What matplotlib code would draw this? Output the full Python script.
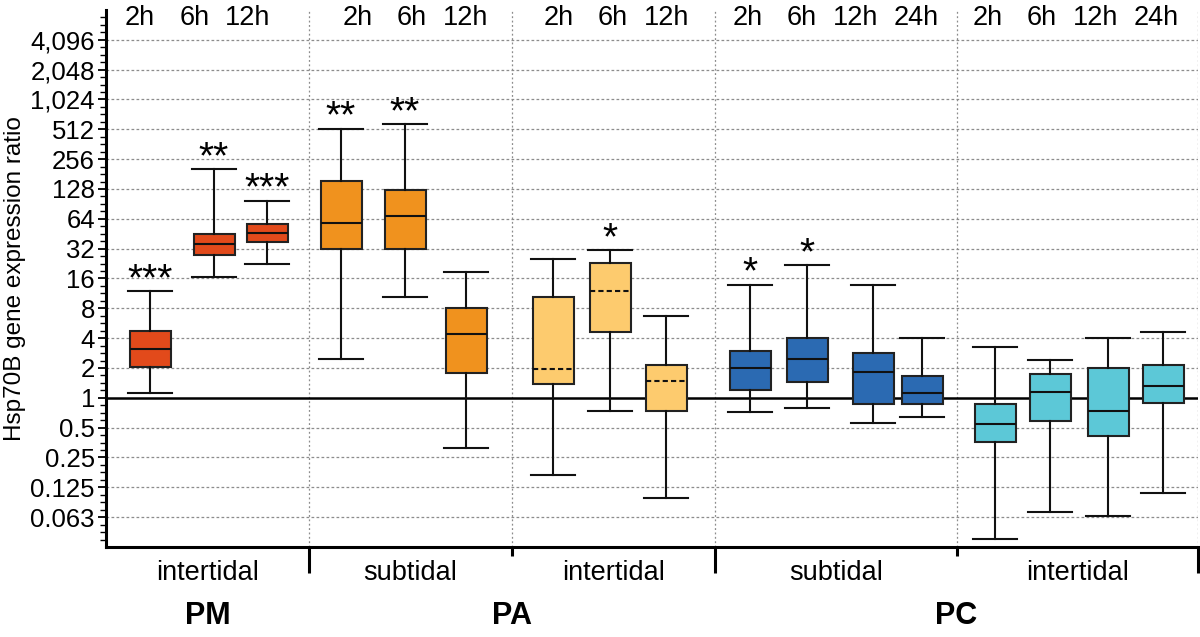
import numpy as np
import matplotlib
matplotlib.use("Agg")
import matplotlib.pyplot as plt
from matplotlib.ticker import FixedLocator, NullFormatter

# five-number summaries per box (ratio units), order: PM int, PA sub, PA int, PC sub, PC int
times = ["2h", "6h", "12h", "2h", "6h", "12h", "2h", "6h", "12h",
         "2h", "6h", "12h", "24h", "2h", "6h", "12h", "24h"]
groups = ["PM-int", "PM-int", "PM-int", "PA-sub", "PA-sub", "PA-sub",
          "PA-int", "PA-int", "PA-int", "PC-sub", "PC-sub", "PC-sub", "PC-sub",
          "PC-int", "PC-int", "PC-int", "PC-int"]
whisker_lo = [1.13, 16.6, 22.3, 2.49, 10.4, 0.313, 0.167, 0.738, 0.098,
              0.72, 0.79, 0.56, 0.64, 0.038, 0.071, 0.064, 0.109]
q1 = [2.06, 27.5, 37.0, 32.0, 32.0, 1.79, 1.37, 4.67, 0.738,
      1.2, 1.45, 0.86, 0.86, 0.36, 0.59, 0.415, 0.88]
median = [3.09, 35.3, 46.2, 58.3, 67.8, 4.42, 1.96, 12.1, 1.48,
          2.0, 2.44, 1.84, 1.11, 0.547, 1.15, 0.74, 1.31]
q3 = [4.76, 44.8, 57.4, 155, 125, 8.15, 10.5, 22.7, 2.16,
      3.0, 4.0, 2.86, 1.67, 0.86, 1.75, 2.0, 2.12]
whisker_hi = [12.0, 202, 97.8, 518, 580, 18.8, 25.2, 30.7, 6.62,
              13.8, 21.7, 13.8, 3.98, 3.27, 2.42, 3.98, 4.59]
stars = ["***", "**", "***", "**", "**", "", "", "*", "",
         "*", "*", "", "", "", "", "", ""]

habitats = ["intertidal", "subtidal", "intertidal", "subtidal", "intertidal"]
species = ["PM", "PA", "PC"]
tick_vals = [0.0625, 0.125, 0.25, 0.5, 1, 2, 4, 8, 16, 32, 64, 128, 256, 512, 1024, 2048, 4096]
tick_labels = ["0.063", "0.125", "0.25", "0.5", "1", "2", "4", "8", "16", "32", "64",
               "128", "256", "512", "1,024", "2,048", "4,096"]

# layout (horizontal units = pixels of the 1200 px wide figure)
BOX_X = [150, 214, 267, 341, 405, 466, 553, 610, 666,
         750, 807, 873, 922, 995, 1050, 1108, 1163]
TIME_X = [140, 195, 248, 358, 412, 466, 559, 613, 667,
          748, 802, 856, 916, 988, 1042, 1096, 1156]
HAB_EDGES = [106, 309, 512, 715, 957, 1198]
SPECIES_EDGES = [106, 309, 715, 1198]
COLORS = {"PM-int": "#E24A1B", "PA-sub": "#F0921E", "PA-int": "#FDCB6E",
          "PC-sub": "#2B6AB2", "PC-int": "#5CC8D7"}
DOTTED_MEDIAN = {"PA-int"}

plt.rcParams["font.family"] = ["Liberation Sans", "DejaVu Sans"]

fig = plt.figure(figsize=(12, 6.37), dpi=100)
ax = fig.add_axes([106 / 1200, 1 - 547 / 637, (1198 - 106) / 1200, (547 - 10) / 637])
ax.set_yscale("log", base=2)
ax.set_ylim(2 ** -5, 2 ** 13)
ax.set_xlim(HAB_EDGES[0], HAB_EDGES[-1])

# grid
for v in tick_vals:
    if v == 1:
        continue
    ax.axhline(v, color="#8c8c8c", lw=0.9, ls=(0, (2.2, 1.8)), zorder=0)
for x in HAB_EDGES[1:]:
    ax.axvline(x, color="#8c8c8c", lw=0.9, ls=(0, (1.5, 2.0)), zorder=0)
ax.axhline(1, color="black", lw=1.8, zorder=1)

# boxes
for i in range(len(times)):
    g = groups[i]
    stats = [{"whislo": whisker_lo[i], "q1": q1[i], "med": median[i],
              "q3": q3[i], "whishi": whisker_hi[i], "fliers": []}]
    med_ls = (0, (2.5, 1.5)) if g in DOTTED_MEDIAN else "-"
    ax.bxp(stats, positions=[BOX_X[i]], widths=41, patch_artist=True,
           showfliers=False, manage_ticks=False,
           boxprops=dict(facecolor=COLORS[g], edgecolor="#222222", linewidth=1.5),
           medianprops=dict(color="#111111", linewidth=1.5, linestyle=med_ls),
           whiskerprops=dict(color="#111111", linewidth=1.5),
           capprops=dict(color="#111111", linewidth=1.5),
           capwidths=44, zorder=3)
    if stars[i]:
        ax.annotate(stars[i], (BOX_X[i], whisker_hi[i]), xytext=(0, -5),
                    textcoords="offset points", ha="center", va="bottom",
                    fontsize=28, zorder=4)

# time labels at top
for x, t in zip(TIME_X, times):
    ax.text(x, 0.985, t, transform=ax.get_xaxis_transform(), ha="center",
            va="center", fontsize=19.5)

# axes styling
for s in ["top", "right"]:
    ax.spines[s].set_visible(False)
ax.spines["left"].set_linewidth(2.2)
ax.spines["bottom"].set_linewidth(2.2)
ax.yaxis.set_major_locator(FixedLocator(tick_vals))
ax.set_yticklabels(tick_labels)
minor = [2 ** e for e in np.arange(-5, 13.01, 0.25) if abs(e - round(e)) > 1e-6]
ax.yaxis.set_minor_locator(FixedLocator(minor))
ax.yaxis.set_minor_formatter(NullFormatter())
ax.tick_params(axis="y", which="major", length=6, width=1.3, labelsize=18.5, pad=2)
ax.tick_params(axis="y", which="minor", length=4, width=1.0)
ax.set_xticks([])
ax.set_ylabel("Hsp70B gene expression ratio", fontsize=17.5, labelpad=3)

# group separators below the axis
for x in HAB_EDGES[1:]:
    long = x in SPECIES_EDGES
    ax.plot([x, x], [0, -0.048 if long else -0.016], transform=ax.get_xaxis_transform(),
            color="black", lw=2.2, clip_on=False, solid_capstyle="butt")

for k, hab in enumerate(habitats):
    xm = (HAB_EDGES[k] + HAB_EDGES[k + 1]) / 2
    ax.text(xm, -0.048, hab, transform=ax.get_xaxis_transform(), ha="center",
            va="center", fontsize=19.5)
for k, sp in enumerate(species):
    xm = (SPECIES_EDGES[k] + SPECIES_EDGES[k + 1]) / 2
    ax.text(xm, -0.128, sp, transform=ax.get_xaxis_transform(), ha="center",
            va="center", fontsize=22, fontweight="bold")

fig.savefig("out.png", dpi=100)
